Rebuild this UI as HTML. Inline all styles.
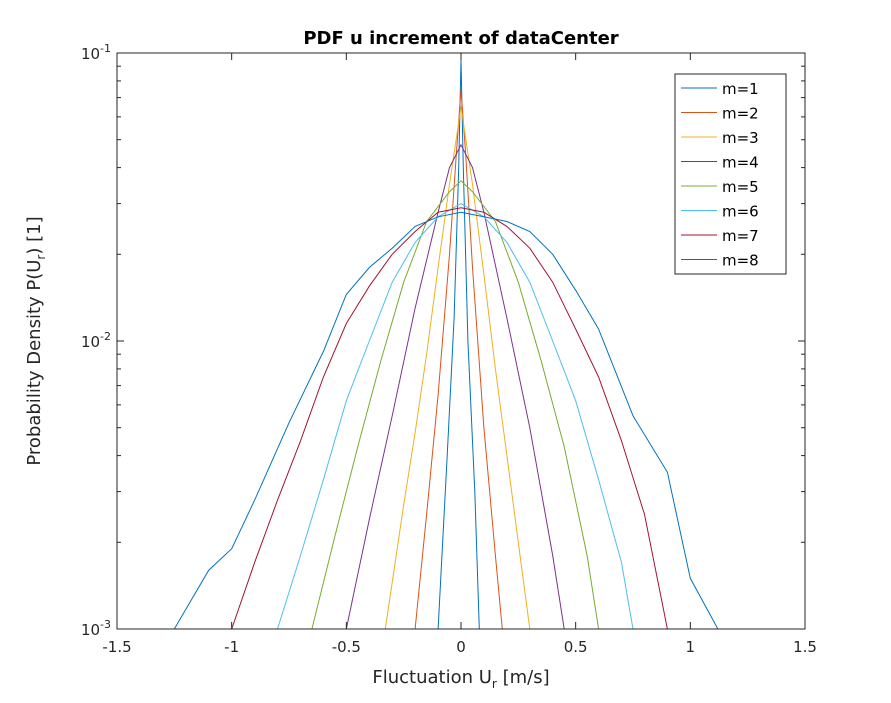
<!DOCTYPE html>
<html><head><meta charset="utf-8"><style>
body{margin:0;background:#fff;}
svg{display:block;font-family:"DejaVu Sans","Liberation Sans",sans-serif;}
</style></head><body>
<svg id="chart" width="891" height="703" viewBox="0 0 891 703">
<rect width="891" height="703" fill="#fff"/>
<g id="plot"></g>
<text x="461" y="44" text-anchor="middle" font-size="18" font-weight="bold" fill="#000">PDF u increment of dataCenter</text>
<text x="461" y="683" text-anchor="middle" font-size="18" fill="#262626">Fluctuation U<tspan font-size="12" dy="5">r</tspan><tspan dy="-5"> [m/s]</tspan></text>
<text transform="translate(40,341) rotate(-90)" text-anchor="middle" font-size="18" fill="#262626">Probability Density P(U<tspan font-size="12" dy="5">r</tspan><tspan dy="-5">) [1]</tspan></text>
</svg>
<script>
const categories=["m=1","m=2","m=3","m=4","m=5","m=6","m=7","m=8"];
const colors=["#0072BD","#D95319","#EDB120","#7E2F8E","#77AC30","#4DBEEE","#A2142F","#0072BD"];
const xTicks=[-1.5,-1,-0.5,0,0.5,1,1.5];
const xTickLabels=["-1.5","-1","-0.5","0","0.5","1","1.5"];
const yTicks=[0.001,0.01,0.1];
const x1=[-0.1,-0.06,-0.03,-0.01,0,0.01,0.03,0.06,0.08];
const y1=[0.001,0.004,0.012,0.04,0.095,0.04,0.01,0.003,0.001];
const x2=[-0.2,-0.15,-0.1,-0.05,-0.02,0,0.02,0.05,0.1,0.15,0.18];
const y2=[0.001,0.0025,0.0065,0.02,0.045,0.075,0.045,0.018,0.005,0.0018,0.001];
const x3=[-0.33,-0.25,-0.2,-0.15,-0.1,-0.05,0,0.05,0.1,0.15,0.2,0.25,0.3];
const y3=[0.001,0.0027,0.0048,0.009,0.018,0.035,0.065,0.035,0.017,0.008,0.004,0.002,0.001];
const x4=[-0.5,-0.4,-0.3,-0.2,-0.1,-0.05,0,0.05,0.1,0.2,0.3,0.4,0.45];
const y4=[0.001,0.0024,0.0055,0.013,0.028,0.04,0.048,0.04,0.028,0.012,0.005,0.0018,0.001];
const x5=[-0.65,-0.55,-0.45,-0.35,-0.25,-0.15,-0.05,0,0.05,0.15,0.25,0.35,0.45,0.55,0.6];
const y5=[0.001,0.0021,0.0043,0.0085,0.016,0.026,0.033,0.036,0.033,0.026,0.016,0.0085,0.0043,0.0018,0.001];
const x6=[-0.8,-0.7,-0.6,-0.5,-0.4,-0.3,-0.2,-0.1,0,0.1,0.2,0.3,0.4,0.5,0.6,0.7,0.75];
const y6=[0.001,0.0018,0.0033,0.0062,0.01,0.016,0.022,0.027,0.03,0.027,0.022,0.016,0.01,0.0062,0.0033,0.0017,0.001];
const x7=[-1.0,-0.9,-0.8,-0.7,-0.6,-0.5,-0.4,-0.3,-0.2,-0.1,0,0.1,0.2,0.3,0.4,0.5,0.6,0.7,0.8,0.9];
const y7=[0.001,0.0017,0.0028,0.0045,0.0075,0.0115,0.0155,0.02,0.024,0.028,0.029,0.028,0.025,0.021,0.016,0.011,0.0075,0.0045,0.0025,0.001];
const x8=[-1.25,-1.1,-1.0,-0.9,-0.75,-0.6,-0.5,-0.4,-0.3,-0.2,-0.1,0,0.1,0.2,0.3,0.4,0.5,0.6,0.75,0.9,1.0,1.12];
const y8=[0.001,0.0016,0.0019,0.0028,0.0052,0.0092,0.0145,0.018,0.021,0.025,0.027,0.028,0.027,0.026,0.024,0.02,0.015,0.011,0.0055,0.0035,0.0015,0.001];
const XS=[x1,x2,x3,x4,x5,x6,x7,x8], YS=[y1,y2,y3,y4,y5,y6,y7,y8];

const L=117,R=805,T=53,B=629;
const sx=v=>L+(v+1.5)/3*(R-L);
const sy=v=>T+(-1-Math.log10(v))/2*(B-T);
const NS="http://www.w3.org/2000/svg";
const g=document.getElementById('plot');
function mk(t,a){const e=document.createElementNS(NS,t);for(const k in a)e.setAttribute(k,a[k]);g.appendChild(e);return e;}
for(let s=0;s<8;s++){
  const p=mk('polyline',{points:XS[s].map((x,i)=>sx(x).toFixed(1)+','+sy(YS[s][i]).toFixed(1)).join(' '),fill:'none',stroke:colors[s],'stroke-width':1});
  
  
}
const box=mk('rect',{x:L,y:T,width:R-L,height:B-T,fill:'none',stroke:'#262626','stroke-width':1});


xTicks.forEach((v,i)=>{
  const x=sx(v);
  mk('line',{x1:x,y1:B,x2:x,y2:B-7,stroke:'#262626'});
  mk('line',{x1:x,y1:T,x2:x,y2:T+7,stroke:'#262626'});
  const t=mk('text',{x:x,y:B+23,'text-anchor':'middle','font-size':15,fill:'#262626'});
  t.textContent=xTickLabels[i];
  
  
});
yTicks.forEach(v=>{
  const y=sy(v);
  mk('line',{x1:L,y1:y,x2:L+7,y2:y,stroke:'#262626'});
  mk('line',{x1:R,y1:y,x2:R-7,y2:y,stroke:'#262626'});
  const t=mk('text',{x:L-6,y:y+6,'text-anchor':'end','font-size':15,fill:'#262626'});
  
  
  const e=Math.round(Math.log10(v));
  t.innerHTML='10<tspan font-size="11" dy="-7">'+e+'</tspan>';
});
for(const d of [0.001,0.01]) for(let k=2;k<=9;k++){
  const y=sy(d*k);
  mk('line',{x1:L,y1:y,x2:L+4,y2:y,stroke:'#262626'});
  mk('line',{x1:R,y1:y,x2:R-4,y2:y,stroke:'#262626'});
}
const lg=mk('rect',{x:675,y:74,width:111,height:200,fill:'#fff',stroke:'#262626'});


categories.forEach((c,i)=>{
  const y=88+i*24.5;
  mk('line',{x1:681,y1:y,x2:717,y2:y,stroke:colors[i]});
  const t=mk('text',{x:722,y:y+6,'font-size':15,fill:'#000'});
  t.textContent=c;
  
  
});
</script>
</body></html>
